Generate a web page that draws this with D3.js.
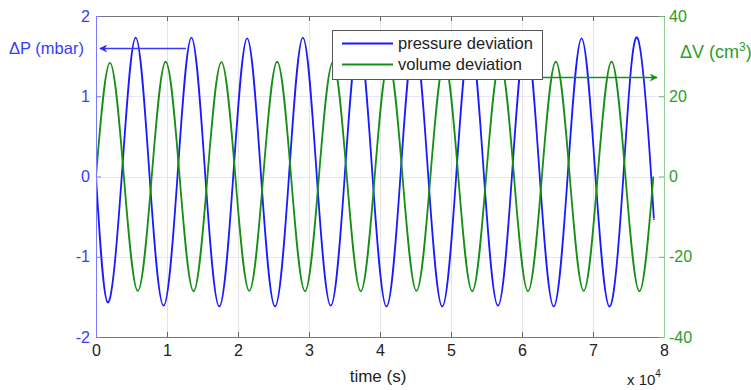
<!DOCTYPE html>
<html>
<head>
<meta charset="utf-8">
<script src="https://cdn.jsdelivr.net/npm/d3@7"></script>
<style>
  html, body { margin: 0; padding: 0; background: #ffffff; }
  svg { display: block; font-family: "Liberation Sans", Arial, sans-serif; }
</style>
</head>
<body>
<svg id="chart" width="751" height="390"></svg>
<script>
// ---------- data ----------
const timeTicks = [0, 10000, 20000, 30000, 40000, 50000, 60000, 70000, 80000];
const timeTickLabels = ["0", "1", "2", "3", "4", "5", "6", "7", "8"];
const pressureTicks = [-2, -1, 0, 1, 2];
const volumeTicks = [-40, -20, 0, 20, 40];

// key points (extrema and zero crossings) of the pressure deviation, mbar
const pressureTime = [0,
  1665, 3625, 5590, 7550,
  9515, 11475, 13440, 15400,
  17365, 19325, 21290, 23250,
  25215, 27175, 29140, 31100,
  33065, 35025, 36990, 38950,
  40915, 42875, 44840, 46800,
  48765, 50725, 52690, 54650,
  56615, 58575, 60540, 62500,
  64465, 66425, 68390, 70350,
  72315, 74275, 76240, 78200,
  78550];
const pressureValue = [0,
  -1.57, 0, 1.73, 0,
  -1.61, 0, 1.73, 0,
  -1.62, 0, 1.72, 0,
  -1.62, 0, 1.73, 0,
  -1.61, 0, 1.73, 0,
  -1.62, 0, 1.72, 0,
  -1.62, 0, 1.73, 0,
  -1.61, 0, 1.73, 0,
  -1.62, 0, 1.72, 0,
  -1.62, 0, 1.73, 0,
  -0.53];

// key points of the volume deviation, cm^3
const volumeTime = [0,
  1963, 3925, 5888, 7850,
  9813, 11775, 13738, 15700,
  17663, 19625, 21588, 23550,
  25513, 27475, 29438, 31400,
  33363, 35325, 37288, 39250,
  41213, 43175, 45138, 47100,
  49063, 51025, 52988, 54950,
  56913, 58875, 60838, 62800,
  64763, 66725, 68688, 70650,
  72613, 74575, 76538, 78500];
const volumeValue = [0,
  28.3, 0, -28.5, 0,
  28.6, 0, -28.6, 0,
  28.5, 0, -28.5, 0,
  28.6, 0, -28.6, 0,
  28.5, 0, -28.6, 0,
  28.6, 0, -28.5, 0,
  28.6, 0, -28.6, 0,
  28.5, 0, -28.6, 0,
  28.6, 0, -28.5, 0,
  28.6, 0, -28.6, 0];

const seriesNames = ["pressure deviation", "volume deviation"];

// ---------- layout ----------
const plot = { left: 96, right: 664, top: 16, bottom: 337 };
const blue = "#1a1aff", green = "#168f16";
const blueAxis = "#3a3aff", greenAxis = "#2a9e2a";

const svg = d3.select("#chart");

const x = d3.scaleLinear().domain([0, 80000]).range([plot.left, plot.right]);
const yP = d3.scaleLinear().domain([-2, 2]).range([plot.bottom, plot.top]);
const yV = d3.scaleLinear().domain([-40, 40]).range([plot.bottom, plot.top]);

// grid
const grid = svg.append("g");
grid.selectAll("line.vg").data(timeTicks.slice(1, -1)).enter().append("line")
  .attr("x1", d => Math.round(x(d)) + 0.5).attr("x2", d => Math.round(x(d)) + 0.5)
  .attr("y1", plot.top).attr("y2", plot.bottom)
  .attr("stroke", "#e4e4e4").attr("stroke-width", 1);
grid.selectAll("line.hg").data(pressureTicks.slice(1, -1)).enter().append("line")
  .attr("x1", plot.left).attr("x2", plot.right)
  .attr("y1", d => Math.round(yP(d)) + 0.5).attr("y2", d => Math.round(yP(d)) + 0.5)
  .attr("stroke", "#e6e6f8").attr("stroke-width", 1);

// clip
svg.append("defs").append("clipPath").attr("id", "clip")
  .append("rect").attr("x", plot.left).attr("y", plot.top)
  .attr("width", plot.right - plot.left).attr("height", plot.bottom - plot.top);

const lineP = d3.line().x(d => x(d[0])).y(d => yP(d[1])).curve(d3.curveNatural);
const lineV = d3.line().x(d => x(d[0])).y(d => yV(d[1])).curve(d3.curveNatural);

const gLines = svg.append("g").attr("clip-path", "url(#clip)");
gLines.append("path")
  .datum(pressureTime.map((t, i) => [t, pressureValue[i]]))
  .attr("d", lineP).attr("fill", "none").attr("stroke", blue).attr("stroke-width", 1.8);
gLines.append("path")
  .datum(volumeTime.map((t, i) => [t, volumeValue[i]]))
  .attr("d", lineV).attr("fill", "none").attr("stroke", green).attr("stroke-width", 1.8);

// axes
const fmt = d => String(d);
const axB = svg.append("g").attr("transform", `translate(0,${plot.bottom})`)
  .call(d3.axisBottom(x).tickValues(timeTicks).tickFormat((d, i) => timeTickLabels[i])
    .tickSizeInner(-5).tickSizeOuter(0).tickPadding(8));
axB.select(".domain").attr("stroke", "#777");
axB.selectAll(".tick line").attr("stroke", "#666");
axB.selectAll("text").attr("fill", "#222").style("font-size", "16px");

const axT = svg.append("g").attr("transform", `translate(0,${plot.top})`)
  .call(d3.axisTop(x).tickValues(timeTicks).tickFormat("")
    .tickSizeInner(-5).tickSizeOuter(0));
axT.select(".domain").attr("stroke", "#777");
axT.selectAll(".tick line").attr("stroke", "#666");

const axL = svg.append("g").attr("transform", `translate(${plot.left},0)`)
  .call(d3.axisLeft(yP).tickValues(pressureTicks).tickFormat(fmt)
    .tickSizeInner(-5).tickSizeOuter(0).tickPadding(6));
axL.select(".domain").attr("stroke", "#7a7aff");
axL.selectAll(".tick line").attr("stroke", "#7a7aff");
axL.selectAll("text").attr("fill", blueAxis).style("font-size", "16px");

const axR = svg.append("g").attr("transform", `translate(${plot.right},0)`)
  .call(d3.axisRight(yV).tickValues(volumeTicks).tickFormat(fmt)
    .tickSizeInner(-5).tickSizeOuter(0).tickPadding(5));
axR.select(".domain").attr("stroke", "#8fcf8f");
axR.selectAll(".tick line").attr("stroke", "#6fbf6f");
axR.selectAll("text").attr("fill", greenAxis).style("font-size", "16px");

// x-axis labels
svg.append("text").attr("x", 378).attr("y", 382).attr("text-anchor", "middle")
  .attr("fill", "#222").style("font-size", "17px").text("time (s)");
const mult = svg.append("text").attr("x", 627).attr("y", 385)
  .attr("fill", "#222").style("font-size", "15px");
mult.append("tspan").text("x 10");
mult.append("tspan").attr("dy", -8).style("font-size", "10px").text("4");

// y labels with arrows
svg.append("text").attr("x", 9).attr("y", 54)
  .attr("fill", blueAxis).style("font-size", "16.5px").text("ΔP (mbar)");
const lv = svg.append("text").attr("x", 680).attr("y", 58)
  .attr("fill", greenAxis).style("font-size", "18px");
lv.append("tspan").text("ΔV (cm");
lv.append("tspan").attr("dy", -7).style("font-size", "12px").text("3");
lv.append("tspan").attr("dy", 7).text(")");

const defs = svg.select("defs");
function marker(id, color) {
  defs.append("marker").attr("id", id).attr("viewBox", "0 0 10 10")
    .attr("refX", 9).attr("refY", 5).attr("markerWidth", 11).attr("markerHeight", 8)
    .attr("markerUnits", "userSpaceOnUse").attr("orient", "auto")
    .append("path").attr("d", "M0,0 L10,5 L0,10 L3,5 Z").attr("fill", color);
}
marker("arrB", "#2a2aff");
marker("arrG", "#189018");

svg.append("line").attr("x1", 186).attr("x2", 100).attr("y1", 48.5).attr("y2", 48.5)
  .attr("stroke", "#3a3aff").attr("stroke-width", 1.3).attr("marker-end", "url(#arrB)");
svg.append("line").attr("x1", 543).attr("x2", 657).attr("y1", 77.5).attr("y2", 77.5)
  .attr("stroke", "#189018").attr("stroke-width", 1.3).attr("marker-end", "url(#arrG)");

// legend
const lg = svg.append("g");
lg.append("rect").attr("x", 332.5).attr("y", 30.5).attr("width", 210).attr("height", 49)
  .attr("fill", "#fff").attr("stroke", "#555").attr("stroke-width", 1);
const legendColors = [blue, green];
seriesNames.forEach((name, i) => {
  const yy = 43.5 + i * 21;
  lg.append("line").attr("x1", 342).attr("x2", 393).attr("y1", yy).attr("y2", yy)
    .attr("stroke", legendColors[i]).attr("stroke-width", 1.8);
  lg.append("text").attr("x", 398).attr("y", yy).attr("dy", "0.35em")
    .attr("fill", "#222").style("font-size", "16.5px").text(name);
});
</script>
</body>
</html>
